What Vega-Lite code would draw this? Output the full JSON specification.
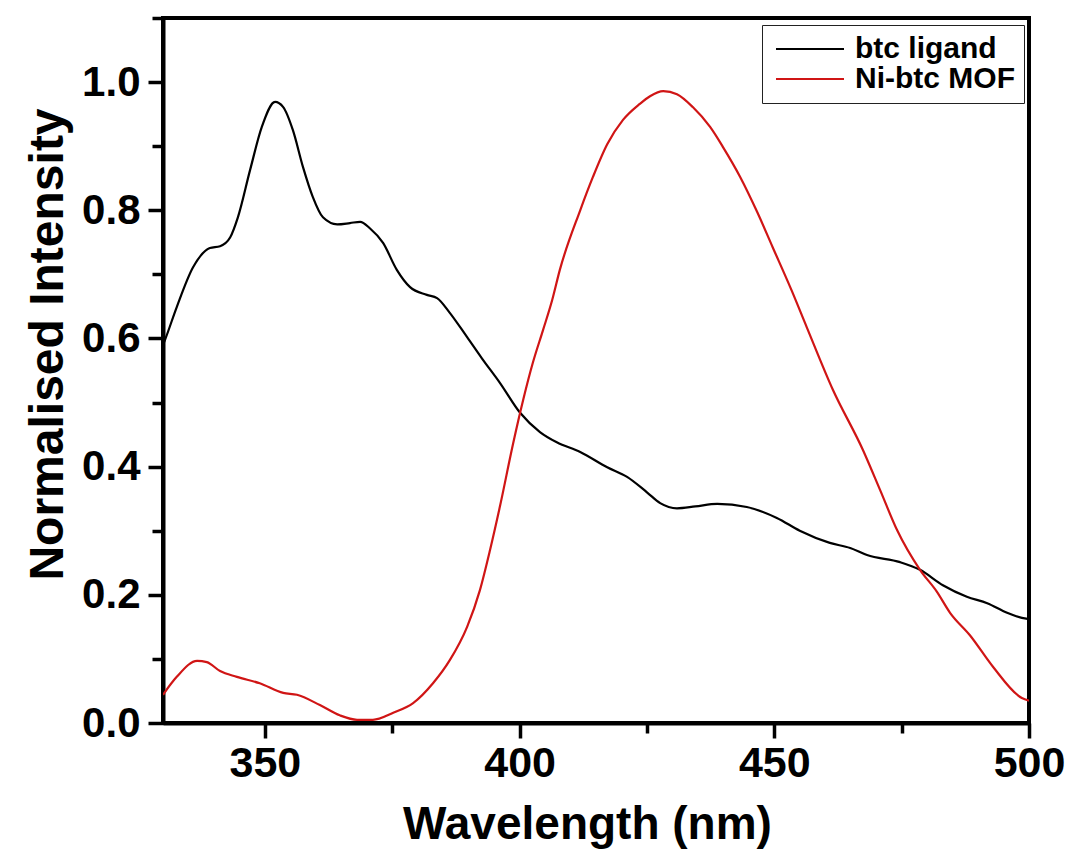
{
  "$schema": "https://vega.github.io/schema/vega-lite/v6.json",
  "autosize": "none",
  "width": 866,
  "height": 705,
  "padding": {"left": 163, "top": 18, "right": 45, "bottom": 137},
  "background": "white",
  "config": {
    "view": {"stroke": "black", "strokeWidth": 4},
    "font": "Liberation Sans"
  },
  "data": {
    "values": [
      {"wl": 330.0, "v": 0.590, "s": "btc ligand"},
      {"wl": 330.4, "v": 0.598, "s": "btc ligand"},
      {"wl": 332.7, "v": 0.649, "s": "btc ligand"},
      {"wl": 335.9, "v": 0.711, "s": "btc ligand"},
      {"wl": 339.2, "v": 0.741, "s": "btc ligand"},
      {"wl": 341.2, "v": 0.744, "s": "btc ligand"},
      {"wl": 343.2, "v": 0.758, "s": "btc ligand"},
      {"wl": 344.7, "v": 0.789, "s": "btc ligand"},
      {"wl": 347.1, "v": 0.863, "s": "btc ligand"},
      {"wl": 349.4, "v": 0.930, "s": "btc ligand"},
      {"wl": 352.0, "v": 0.969, "s": "btc ligand"},
      {"wl": 353.6, "v": 0.961, "s": "btc ligand"},
      {"wl": 355.5, "v": 0.925, "s": "btc ligand"},
      {"wl": 357.5, "v": 0.867, "s": "btc ligand"},
      {"wl": 359.4, "v": 0.821, "s": "btc ligand"},
      {"wl": 361.4, "v": 0.789, "s": "btc ligand"},
      {"wl": 364.2, "v": 0.778, "s": "btc ligand"},
      {"wl": 366.7, "v": 0.780, "s": "btc ligand"},
      {"wl": 368.7, "v": 0.782, "s": "btc ligand"},
      {"wl": 370.6, "v": 0.772, "s": "btc ligand"},
      {"wl": 373.2, "v": 0.749, "s": "btc ligand"},
      {"wl": 375.9, "v": 0.707, "s": "btc ligand"},
      {"wl": 378.5, "v": 0.680, "s": "btc ligand"},
      {"wl": 381.8, "v": 0.668, "s": "btc ligand"},
      {"wl": 383.8, "v": 0.663, "s": "btc ligand"},
      {"wl": 386.3, "v": 0.640, "s": "btc ligand"},
      {"wl": 389.7, "v": 0.602, "s": "btc ligand"},
      {"wl": 392.6, "v": 0.569, "s": "btc ligand"},
      {"wl": 396.2, "v": 0.530, "s": "btc ligand"},
      {"wl": 400.1, "v": 0.484, "s": "btc ligand"},
      {"wl": 404.0, "v": 0.454, "s": "btc ligand"},
      {"wl": 407.3, "v": 0.438, "s": "btc ligand"},
      {"wl": 411.9, "v": 0.423, "s": "btc ligand"},
      {"wl": 417.2, "v": 0.399, "s": "btc ligand"},
      {"wl": 421.1, "v": 0.384, "s": "btc ligand"},
      {"wl": 425.0, "v": 0.360, "s": "btc ligand"},
      {"wl": 427.6, "v": 0.343, "s": "btc ligand"},
      {"wl": 430.9, "v": 0.335, "s": "btc ligand"},
      {"wl": 434.5, "v": 0.338, "s": "btc ligand"},
      {"wl": 438.8, "v": 0.342, "s": "btc ligand"},
      {"wl": 444.6, "v": 0.337, "s": "btc ligand"},
      {"wl": 450.5, "v": 0.320, "s": "btc ligand"},
      {"wl": 455.0, "v": 0.300, "s": "btc ligand"},
      {"wl": 460.9, "v": 0.281, "s": "btc ligand"},
      {"wl": 464.9, "v": 0.273, "s": "btc ligand"},
      {"wl": 468.2, "v": 0.262, "s": "btc ligand"},
      {"wl": 474.7, "v": 0.251, "s": "btc ligand"},
      {"wl": 478.6, "v": 0.239, "s": "btc ligand"},
      {"wl": 483.1, "v": 0.215, "s": "btc ligand"},
      {"wl": 487.8, "v": 0.197, "s": "btc ligand"},
      {"wl": 491.8, "v": 0.187, "s": "btc ligand"},
      {"wl": 495.7, "v": 0.172, "s": "btc ligand"},
      {"wl": 498.6, "v": 0.164, "s": "btc ligand"},
      {"wl": 500.0, "v": 0.162, "s": "btc ligand"},
      {"wl": 330.0, "v": 0.044, "s": "Ni-btc MOF"},
      {"wl": 332.7, "v": 0.072, "s": "Ni-btc MOF"},
      {"wl": 336.7, "v": 0.097, "s": "Ni-btc MOF"},
      {"wl": 338.6, "v": 0.095, "s": "Ni-btc MOF"},
      {"wl": 341.2, "v": 0.081, "s": "Ni-btc MOF"},
      {"wl": 344.5, "v": 0.072, "s": "Ni-btc MOF"},
      {"wl": 349.0, "v": 0.062, "s": "Ni-btc MOF"},
      {"wl": 353.6, "v": 0.047, "s": "Ni-btc MOF"},
      {"wl": 356.3, "v": 0.044, "s": "Ni-btc MOF"},
      {"wl": 360.8, "v": 0.028, "s": "Ni-btc MOF"},
      {"wl": 364.7, "v": 0.012, "s": "Ni-btc MOF"},
      {"wl": 368.1, "v": 0.005, "s": "Ni-btc MOF"},
      {"wl": 371.2, "v": 0.005, "s": "Ni-btc MOF"},
      {"wl": 375.2, "v": 0.016, "s": "Ni-btc MOF"},
      {"wl": 379.1, "v": 0.031, "s": "Ni-btc MOF"},
      {"wl": 383.0, "v": 0.062, "s": "Ni-btc MOF"},
      {"wl": 386.3, "v": 0.098, "s": "Ni-btc MOF"},
      {"wl": 389.7, "v": 0.150, "s": "Ni-btc MOF"},
      {"wl": 392.2, "v": 0.207, "s": "Ni-btc MOF"},
      {"wl": 394.2, "v": 0.270, "s": "Ni-btc MOF"},
      {"wl": 396.2, "v": 0.340, "s": "Ni-btc MOF"},
      {"wl": 398.7, "v": 0.435, "s": "Ni-btc MOF"},
      {"wl": 400.7, "v": 0.504, "s": "Ni-btc MOF"},
      {"wl": 402.6, "v": 0.562, "s": "Ni-btc MOF"},
      {"wl": 404.6, "v": 0.613, "s": "Ni-btc MOF"},
      {"wl": 406.4, "v": 0.660, "s": "Ni-btc MOF"},
      {"wl": 407.9, "v": 0.707, "s": "Ni-btc MOF"},
      {"wl": 411.9, "v": 0.800, "s": "Ni-btc MOF"},
      {"wl": 414.4, "v": 0.852, "s": "Ni-btc MOF"},
      {"wl": 417.2, "v": 0.903, "s": "Ni-btc MOF"},
      {"wl": 420.3, "v": 0.941, "s": "Ni-btc MOF"},
      {"wl": 423.6, "v": 0.966, "s": "Ni-btc MOF"},
      {"wl": 425.6, "v": 0.978, "s": "Ni-btc MOF"},
      {"wl": 428.2, "v": 0.986, "s": "Ni-btc MOF"},
      {"wl": 430.9, "v": 0.981, "s": "Ni-btc MOF"},
      {"wl": 434.0, "v": 0.961, "s": "Ni-btc MOF"},
      {"wl": 437.4, "v": 0.930, "s": "Ni-btc MOF"},
      {"wl": 439.9, "v": 0.899, "s": "Ni-btc MOF"},
      {"wl": 443.3, "v": 0.852, "s": "Ni-btc MOF"},
      {"wl": 446.6, "v": 0.798, "s": "Ni-btc MOF"},
      {"wl": 449.7, "v": 0.742, "s": "Ni-btc MOF"},
      {"wl": 453.4, "v": 0.675, "s": "Ni-btc MOF"},
      {"wl": 456.4, "v": 0.617, "s": "Ni-btc MOF"},
      {"wl": 461.5, "v": 0.520, "s": "Ni-btc MOF"},
      {"wl": 467.4, "v": 0.426, "s": "Ni-btc MOF"},
      {"wl": 470.8, "v": 0.363, "s": "Ni-btc MOF"},
      {"wl": 474.1, "v": 0.301, "s": "Ni-btc MOF"},
      {"wl": 478.6, "v": 0.239, "s": "Ni-btc MOF"},
      {"wl": 481.9, "v": 0.205, "s": "Ni-btc MOF"},
      {"wl": 484.5, "v": 0.172, "s": "Ni-btc MOF"},
      {"wl": 488.4, "v": 0.137, "s": "Ni-btc MOF"},
      {"wl": 493.0, "v": 0.087, "s": "Ni-btc MOF"},
      {"wl": 498.6, "v": 0.039, "s": "Ni-btc MOF"},
      {"wl": 500.0, "v": 0.035, "s": "Ni-btc MOF"}
    ]
  },
  "mark": {"type": "line", "strokeWidth": 2.2, "clip": true, "interpolate": "monotone"},
  "encoding": {
    "x": {
      "field": "wl", "type": "quantitative",
      "scale": {"domain": [330, 500], "nice": false, "zero": false},
      "axis": {
        "title": "Wavelength (nm)",
        "values": [350, 375, 400, 425, 450, 475, 500],
        "labelExpr": "datum.value % 50 === 0 ? datum.label : ''",
        "format": "d",
        "grid": false,
        "domainColor": "black", "domainWidth": 4,
        "tickColor": "black", "tickWidth": 3.5,
        "tickSize": {"condition": {"test": "datum.value % 50 === 0", "value": 15}, "value": 10},
        "labelFont": "Liberation Sans", "labelFontWeight": "bold", "labelFontSize": 43, "labelColor": "black",
        "labelPadding": 4, "labelFlush": false, "labelOverlap": false,
        "titleFont": "Liberation Sans", "titleFontWeight": "bold", "titleFontSize": 46, "titleColor": "black",
        "titleBaseline": "alphabetic", "titleY": 115, "titleX": 424, "titleAlign": "center"
      }
    },
    "y": {
      "field": "v", "type": "quantitative",
      "scale": {"domain": [0, 1.1], "nice": false},
      "axis": {
        "title": "Normalised Intensity",
        "values": [0, 0.1, 0.2, 0.3, 0.4, 0.5, 0.6, 0.7, 0.8, 0.9, 1.0, 1.1],
        "format": ".1f",
        "labelExpr": "round(datum.value * 10) % 2 === 0 ? datum.label : ''",
        "grid": false,
        "domainColor": "black", "domainWidth": 4,
        "tickColor": "black", "tickWidth": 3.5,
        "tickSize": {"condition": {"test": "round(datum.value * 10) % 2 === 0", "value": 15}, "value": 11},
        "labelFont": "Liberation Sans", "labelFontWeight": "bold", "labelFontSize": 42, "labelColor": "black",
        "labelPadding": 8, "labelFlush": false, "labelOverlap": false,
        "titleFont": "Liberation Sans", "titleFontWeight": "bold", "titleFontSize": 48, "titleColor": "black",
        "titleAngle": -90, "titleBaseline": "alphabetic", "titleAlign": "center",
        "titleX": -101, "titleY": 326
      }
    },
    "color": {
      "field": "s", "type": "nominal",
      "scale": {"domain": ["btc ligand", "Ni-btc MOF"], "range": ["#000000", "#d01515"]},
      "legend": {
        "title": null,
        "orient": "none", "legendX": 599, "legendY": 7,
        "strokeColor": "#222222", "fillColor": "white", "padding": 9,
        "symbolType": "M-1,0H5.8", "symbolSize": 400, "symbolStrokeWidth": 2.2,
        "labelFont": "Liberation Sans", "labelFontWeight": "bold", "labelFontSize": 30, "labelColor": "black",
        "labelOffset": 54, "rowPadding": -2, "labelLimit": 400
      }
    }
  }
}
